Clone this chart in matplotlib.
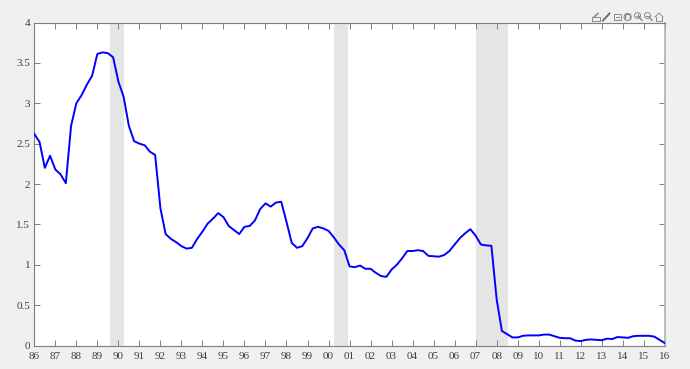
import matplotlib
matplotlib.use("Agg")
import matplotlib.pyplot as plt
from matplotlib.lines import Line2D
import numpy as np

start_year = 86
values = [
 2.62,2.52,2.20,2.35, 2.18,2.12,2.01,2.72, 3.00,3.10,3.23,3.34, 3.61,3.63,3.62,3.57,
 3.27,3.08,2.72,2.53, 2.50,2.48,2.40,2.36, 1.70,1.38,1.32,1.28, 1.23,1.20,1.21,1.32,
 1.41,1.51,1.57,1.64, 1.59,1.48,1.43,1.38, 1.47,1.48,1.55,1.69, 1.76,1.72,1.77,1.78,
 1.53,1.27,1.21,1.23, 1.33,1.45,1.47,1.45, 1.42,1.34,1.25,1.18, 0.98,0.97,0.99,0.95,
 0.95,0.90,0.86,0.85, 0.94,1.00,1.08,1.17, 1.17,1.18,1.17,1.11, 1.105,1.10,1.12,1.17,
 1.25,1.33,1.39,1.44, 1.36,1.25,1.24,1.235, 0.57,0.18,0.14,0.10, 0.10,0.12,0.125,0.125,
 0.125,0.135,0.135,0.115, 0.095,0.09,0.09,0.06, 0.055,0.07,0.075,0.07, 0.065,0.085,0.08,0.105,
 0.10,0.095,0.115,0.12, 0.12,0.12,0.11,0.07, 0.03]
recessions = [(89.6, 90.27), (100.28, 100.95), (107.02, 108.53)]
y_ticks = [0, 0.5, 1, 1.5, 2, 2.5, 3, 3.5, 4]
y_labels = ['0', '0.5', '1', '1.5', '2', '2.5', '3', '3.5', '4']
x_ticks = list(range(86, 117))
x_labels = [f"{y % 100:02d}" for y in x_ticks]

W, H = 690, 369
bg = '#f0f0f0'
grey = '#7f7f7f'
txt = '#404040'

plt.rcParams['font.family'] = ['Liberation Serif', 'DejaVu Serif']
fig = plt.figure(figsize=(W/100, H/100), dpi=100, facecolor=bg)
L, R, T, B = 34.3, 664.8, 22.5, 345.5
ax = fig.add_axes([L/W, 1-B/H, (R-L)/W, (B-T)/H], facecolor='white')

t = start_year + np.arange(len(values)) / 4
for a, b in recessions:
    ax.axvspan(a, b, color='#e5e5e5', lw=0, zorder=1)
ax.plot(t, values, color='#0000ff', lw=1.4, zorder=3, solid_joinstyle='round')

ax.set_xlim(86, 116)
ax.set_ylim(0, 4)
ax.set_xticks(x_ticks, x_labels)
ax.set_yticks(y_ticks, y_labels)
ax.tick_params(axis='both', direction='in', length=4.2, width=0.7, color=grey,
               labelcolor=txt, labelsize=8, top=True, right=True)
ax.tick_params(axis='x', pad=4.5)
ax.tick_params(axis='y', pad=3)
for s in ax.spines.values():
    s.set_color(grey)
    s.set_linewidth(0.8)
ax.spines['right'].set_color('#b0b0b0')
ax.spines['right'].set_linewidth(1.2)

# toolbar icons
ic = '#8a8a8a'
def poly(xs, ys, lw=0.7, c=ic):
    fig.add_artist(Line2D([x/W for x in xs], [1-y/H for y in ys], color=c, lw=lw,
                          transform=fig.transFigure))
def circle(cx, cy, r, lw=0.7):
    a = np.linspace(0, 2*np.pi, 24)
    poly(cx + r*np.cos(a), cy + r*np.sin(a), lw)

poly([592, 592, 600, 600, 592], [20.5, 17, 17, 20.5, 20.5])
poly([594, 598], [17, 13.5], 1.2)
poly([603, 609.5], [20.5, 13.5], 1.4, '#707070')
poly([613.5, 620.5, 620.5, 613.5, 613.5], [14, 14, 20, 20, 14])
poly([615.5, 618.5], [17, 17])
circle(627.5, 17, 3.5)
poly([625, 625, 630, 630], [19, 14, 14, 19], 1.0)
circle(637.5, 15.5, 3)
poly([639.7, 642], [17.7, 20.5], 1.0)
poly([636, 639], [15.5, 15.5]); poly([637.5, 637.5], [14, 17])
circle(647.5, 15.5, 3)
poly([649.7, 652], [17.7, 20.5], 1.0)
poly([646, 649], [15.5, 15.5])
poly([655, 659, 663], [17, 13, 17])
poly([656, 656, 662, 662], [16.5, 20.5, 20.5, 16.5])

fig.savefig('out.png', dpi=100, facecolor=bg)
